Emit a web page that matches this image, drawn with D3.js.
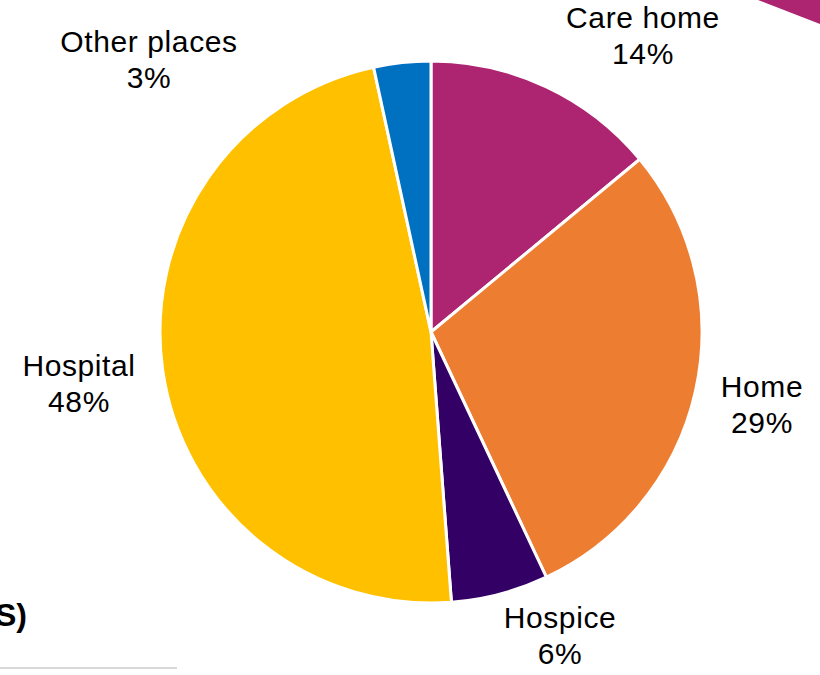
<!DOCTYPE html>
<html>
<head>
<meta charset="utf-8">
<script src="https://cdn.jsdelivr.net/npm/d3@7"></script>
<style>
  body { margin: 0; background: #fff; }
  text { font-family: Arial, "Liberation Sans", sans-serif; }
</style>
</head>
<body>
<div id="chart"></div>
<script>
const width = 820;
const height = 675;

// place of death, share of deaths (%), clockwise from 12 o'clock
const places = ['Care home', 'Home', 'Hospice', 'Hospital', 'Other places'];
const shares = [14.0, 29.0, 5.8, 47.8, 3.4];
const colours = ['#ad2470', '#ed7d31', '#330066', '#ffc000', '#0070c0'];

// label centres, relative to pie centre (layout only)
const labelOffsets = [[212, -296], [331, 73], [129, 304], [-352, 52], [-282, -272]];

const cx = 431, cy = 332, radius = 271;

const svg = d3.select('#chart')
  .append('svg')
  .attr('width', width)
  .attr('height', height);

// decorative corner shape, top right
svg.append('path')
  .attr('d', `M758,0 L${width},0 L${width},24 Z`)
  .attr('fill', colours[0]);

// leftover title fragment and rule, bottom left
svg.append('text')
  .attr('x', -5)
  .attr('y', 626)
  .style('font-size', '32px')
  .style('font-weight', 'bold')
  .text('S)');

svg.append('line')
  .attr('x1', 0).attr('x2', 177)
  .attr('y1', 668).attr('y2', 668)
  .attr('stroke', '#d9d9d9')
  .attr('stroke-width', 2);

const pie = d3.pie().sort(null).value(d => d);
const arc = d3.arc().innerRadius(0).outerRadius(radius);

const g = svg.append('g')
  .attr('transform', `translate(${cx},${cy})`);

g.selectAll('path.slice')
  .data(pie(shares))
  .enter()
  .append('path')
  .classed('slice', true)
  .attr('d', arc)
  .attr('fill', (d, i) => colours[i])
  .attr('stroke', '#fff')
  .attr('stroke-width', 3)
  .attr('stroke-linejoin', 'round');

const labels = g.selectAll('g.label')
  .data(places)
  .enter()
  .append('g')
  .classed('label', true)
  .attr('transform', (d, i) => `translate(${labelOffsets[i][0]},${labelOffsets[i][1]})`);

labels.append('text')
  .attr('text-anchor', 'middle')
  .attr('y', -8)
  .style('font-size', '30px')
  .style('letter-spacing', '0.6px')
  .text(d => d);

labels.append('text')
  .attr('text-anchor', 'middle')
  .attr('y', 28)
  .style('font-size', '30px')
  .style('letter-spacing', '0.6px')
  .text((d, i) => Math.round(shares[i]) + '%');
</script>
</body>
</html>
